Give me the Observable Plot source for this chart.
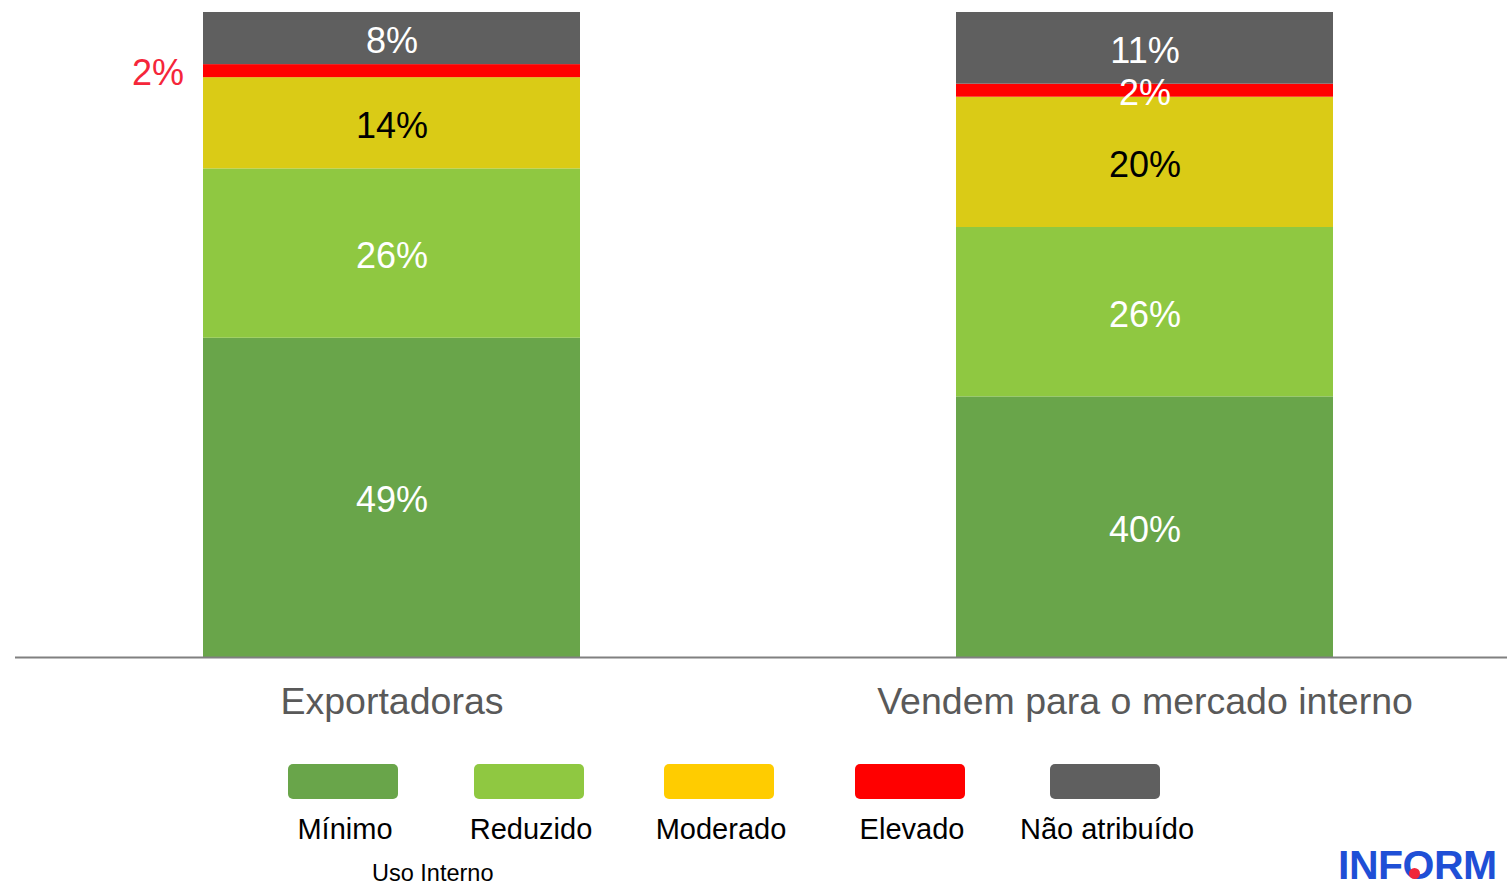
<!DOCTYPE html>
<html>
<head>
<meta charset="utf-8">
<script src="https://cdn.jsdelivr.net/npm/d3@7"></script>
<script src="https://cdn.jsdelivr.net/npm/@observablehq/plot@0.6"></script>
<style>
  html, body { margin: 0; padding: 0; background: #fff; }
  #wrap { position: relative; width: 1507px; height: 887px; overflow: hidden; font-family: "Liberation Sans", Arial, sans-serif; }
  #chart { position: absolute; left: 0; top: 0; }
  .sw { position: absolute; top: 764px; width: 110px; height: 35px; border-radius: 5px; }
  .lab { position: absolute; top: 811px; width: 220px; text-align: center; font-size: 29px; color: #000; line-height: 36px; }
  #uso { position: absolute; left: 372px; top: 862px; font-size: 23.5px; color: #000; line-height: 22px; }
  #logo { position: absolute; left: 1338px; top: 846px; font-size: 41px; font-weight: bold; color: #1f4fd6; letter-spacing: -0.5px; line-height: 38px; white-space: nowrap; }
  #logo .o { position: relative; display: inline-block; }
  #logo .dot { position: absolute; left: 6px; bottom: 5px; width: 11px; height: 11px; border-radius: 50%; background: #f0263a; }
</style>
</head>
<body>
<div id="wrap">
  <div id="chart"></div>
  <div id="legend"></div>
  <div id="uso">Uso Interno</div>
  <div id="logo">INF<span class="o">O<span class="dot"></span></span>RM</div>
</div>
<script>
const categories = ["Exportadoras", "Vendem para o mercado interno"];
const levels = ["Mínimo", "Reduzido", "Moderado", "Elevado", "Não atribuído"];
const exportadoras = [49, 26, 14, 2, 8];
const mercadoInterno = [40, 26, 20, 2, 11];
const barColors = ["#69a54a", "#8fc841", "#dacb16", "#ff0000", "#5f5f5f"];
const legendColors = ["#69a54a", "#8fc841", "#ffcc00", "#ff0000", "#5f5f5f"];
const labelColors = ["#ffffff", "#ffffff", "#000000", "#ffffff", "#ffffff"];

const seriesByCat = [exportadoras, mercadoInterno];
const data = [];
categories.forEach((c, ci) => {
  levels.forEach((l, li) => {
    data.push({
      cat: c, level: l, value: seriesByCat[ci][li],
      labelFill: labelColors[li],
      inside: !(ci === 0 && l === "Elevado"),
      outside: ci === 0 && l === "Elevado"
    });
  });
});

const chart = Plot.plot({
  width: 1507,
  height: 730,
  marginTop: 12,
  marginBottom: 73,
  marginLeft: 15,
  marginRight: 0,
  style: { fontFamily: "Liberation Sans, Arial, sans-serif", background: "#fff" },
  x: { domain: categories, range: [15, 1521], paddingInner: 0.5, paddingOuter: 0.25, label: null },
  y: { domain: [0, 99], axis: null },
  color: { domain: levels, range: barColors },
  marks: [
    Plot.barY(data, Plot.stackY({ x: "cat", y: "value", fill: "level", order: null })),
    Plot.ruleY([0], { stroke: "#808080", strokeWidth: 2 }),
    Plot.text(data, Plot.stackY({
      x: "cat", y: "value", order: null,
      text: d => d.inside ? d.value + "%" : "",
      fill: d => d.labelFill,
      fontSize: 36,
      dy: 3
    })),
    Plot.text(data, Plot.stackY({
      x: "cat", y: "value", order: null,
      text: d => d.outside ? d.value + "%" : "",
      fill: "#f5263a",
      fontSize: 36,
      dx: -234,
      dy: 2
    })),
    Plot.axisX({ tickSize: 0, tickPadding: 30, fontSize: 37.5, fill: "#595959", label: null })
  ]
});
document.getElementById("chart").appendChild(chart);

const swLeft = [288, 474, 664, 855, 1050];
const legend = document.getElementById("legend");
levels.forEach((l, i) => {
  const sw = document.createElement("div");
  sw.className = "sw";
  sw.style.left = swLeft[i] + "px";
  sw.style.background = legendColors[i];
  legend.appendChild(sw);
  const lb = document.createElement("div");
  lb.className = "lab";
  lb.style.left = (swLeft[i] + 57 - 110) + "px";
  lb.textContent = l;
  legend.appendChild(lb);
});
</script>
</body>
</html>
